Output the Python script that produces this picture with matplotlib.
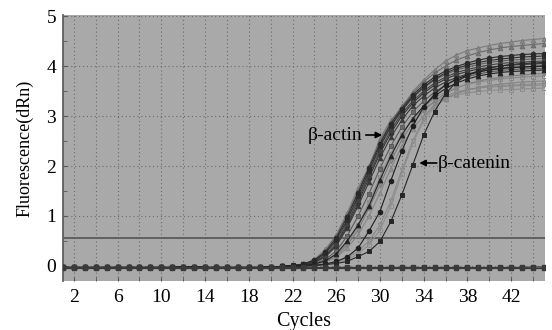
import matplotlib
matplotlib.use("Agg")
import matplotlib.pyplot as plt
from matplotlib.ticker import MultipleLocator, FixedLocator

# ---------------- data ----------------
cycles = list(range(1, 46))
# shared flat baseline, cycles 1..21
baseline = [-0.03, -0.03, -0.03, -0.03, -0.03, -0.03, -0.03, -0.03, -0.03, -0.03,
            -0.03, -0.02, -0.02, -0.03, -0.03, -0.03, -0.03, -0.03, -0.03, -0.02, -0.01]
# amplification part, cycles 22..45
e1 = [0.01, 0.04, 0.13, 0.33, 0.62, 1.06, 1.56, 1.98, 2.55, 2.92, 3.15, 3.49, 3.72, 3.92, 4.10, 4.22, 4.31, 4.36, 4.41, 4.45, 4.48, 4.51, 4.53, 4.55]
e2 = [0.01, 0.03, 0.11, 0.30, 0.60, 1.02, 1.50, 2.00, 2.50, 2.88, 3.20, 3.45, 3.68, 3.86, 4.00, 4.12, 4.20, 4.27, 4.32, 4.36, 4.39, 4.41, 4.43, 4.45]
e3 = [0.01, 0.04, 0.12, 0.28, 0.56, 0.98, 1.46, 1.96, 2.45, 2.85, 3.15, 3.42, 3.62, 3.78, 3.90, 3.99, 4.06, 4.12, 4.16, 4.19, 4.21, 4.23, 4.24, 4.25]
e4 = [0.01, 0.03, 0.10, 0.25, 0.52, 0.92, 1.40, 1.90, 2.40, 2.80, 3.12, 3.38, 3.58, 3.74, 3.86, 3.95, 4.02, 4.07, 4.11, 4.14, 4.16, 4.18, 4.19, 4.20]
e5 = [0.00, 0.03, 0.09, 0.22, 0.48, 0.88, 1.36, 1.86, 2.36, 2.78, 3.10, 3.36, 3.56, 3.72, 3.83, 3.92, 3.98, 4.03, 4.07, 4.10, 4.12, 4.13, 4.14, 4.15]
e6 = [0.00, 0.02, 0.08, 0.20, 0.44, 0.84, 1.32, 1.82, 2.30, 2.72, 3.05, 3.30, 3.50, 3.66, 3.78, 3.87, 3.93, 3.98, 4.02, 4.05, 4.07, 4.08, 4.09, 4.10]
e7 = [0.00, 0.02, 0.08, 0.19, 0.42, 0.80, 1.26, 1.76, 2.25, 2.66, 3.00, 3.26, 3.46, 3.62, 3.74, 3.83, 3.89, 3.94, 3.97, 4.00, 4.02, 4.03, 4.04, 4.05]
e8 = [0.00, 0.02, 0.07, 0.18, 0.40, 0.76, 1.20, 1.68, 2.16, 2.58, 2.92, 3.20, 3.40, 3.56, 3.68, 3.77, 3.84, 3.89, 3.93, 3.95, 3.97, 3.98, 3.99, 4.00]
m1 = [0.00, 0.01, 0.05, 0.13, 0.30, 0.60, 1.00, 1.45, 1.95, 2.40, 2.78, 3.08, 3.30, 3.48, 3.62, 3.72, 3.79, 3.84, 3.88, 3.91, 3.93, 3.94, 3.95, 3.95]
m2 = [0.00, 0.01, 0.04, 0.10, 0.24, 0.50, 0.82, 1.20, 1.72, 2.20, 2.62, 2.95, 3.20, 3.40, 3.55, 3.66, 3.74, 3.80, 3.84, 3.87, 3.89, 3.90, 3.91, 3.92]
m3 = [0.00, 0.01, 0.04, 0.09, 0.19, 0.42, 0.72, 1.16, 1.62, 2.10, 2.52, 2.86, 3.10, 3.30, 3.45, 3.56, 3.64, 3.70, 3.74, 3.77, 3.80, 3.82, 3.84, 3.85]
m4 = [0.00, 0.01, 0.03, 0.08, 0.17, 0.36, 0.62, 1.00, 1.46, 1.95, 2.40, 2.75, 3.00, 3.20, 3.35, 3.45, 3.52, 3.57, 3.61, 3.64, 3.66, 3.68, 3.69, 3.70]
m5 = [0.00, 0.01, 0.04, 0.10, 0.22, 0.45, 0.80, 1.25, 1.75, 2.22, 2.62, 2.95, 3.18, 3.36, 3.48, 3.57, 3.63, 3.68, 3.71, 3.74, 3.76, 3.78, 3.79, 3.80]
l1 = [0.00, 0.01, 0.04, 0.10, 0.22, 0.46, 0.82, 1.28, 1.78, 2.25, 2.65, 2.95, 3.15, 3.28, 3.36, 3.42, 3.46, 3.49, 3.51, 3.52, 3.53, 3.54, 3.55, 3.56]
c1 = [-0.01, 0.00, 0.01, 0.03, 0.05, 0.09, 0.19, 0.29, 0.49, 0.89, 1.42, 2.02, 2.62, 3.09, 3.45, 3.68, 3.82, 3.90, 3.96, 4.00, 4.03, 4.05, 4.06, 4.07]
c2 = [-0.01, 0.00, 0.01, 0.04, 0.09, 0.18, 0.36, 0.70, 1.09, 1.71, 2.30, 2.80, 3.18, 3.44, 3.62, 3.74, 3.82, 3.88, 3.92, 3.95, 3.97, 3.98, 3.99, 4.00]
c3 = [-0.01, 0.00, 0.01, 0.03, 0.08, 0.16, 0.30, 0.50, 0.82, 1.30, 1.92, 2.50, 2.95, 3.25, 3.40, 3.48, 3.53, 3.56, 3.58, 3.59, 3.60, 3.61, 3.61, 3.62]
c4 = [-0.01, 0.00, 0.01, 0.02, 0.06, 0.12, 0.25, 0.42, 0.72, 1.20, 1.85, 2.45, 2.90, 3.18, 3.35, 3.45, 3.52, 3.56, 3.59, 3.61, 3.62, 3.63, 3.64, 3.65]
# no-template controls, cycles 1..45
ntc1 = [-0.03, -0.03, -0.03, -0.03, -0.03, -0.03, -0.03, -0.03, -0.03, -0.03,
        -0.03, -0.03, -0.03, -0.03, -0.03, -0.03, -0.03, -0.03, -0.03, -0.03,
        -0.03, -0.03, -0.03, -0.03, -0.03, -0.03, -0.03, -0.03, -0.03, -0.03,
        -0.03, -0.03, -0.03, -0.03, -0.03, -0.03, -0.03, -0.03, -0.03, -0.03,
        -0.03, -0.03, -0.03, -0.02, -0.02]
ntc2 = [-0.04, -0.04, -0.04, -0.04, -0.04, -0.04, -0.04, -0.04, -0.04, -0.04,
        -0.04, -0.04, -0.04, -0.04, -0.04, -0.04, -0.04, -0.04, -0.04, -0.04,
        -0.04, -0.04, -0.04, -0.04, -0.04, -0.04, -0.04, -0.04, -0.04, -0.04,
        -0.04, -0.04, -0.04, -0.04, -0.04, -0.04, -0.04, -0.04, -0.04, -0.04,
        -0.04, -0.04, -0.04, -0.04, -0.04]
threshold = 0.55

x_ticks = [2, 6, 10, 14, 18, 22, 26, 30, 34, 38, 42]
y_ticks = [0, 1, 2, 3, 4, 5]

# ---------------- style ----------------
curves = [
    (l1, 's', '#8c8c8c', 'none'),
    (c4, 's', '#8f8f8f', 'none'),
    (c3, 'v', '#8a8a8a', '#9a9a9a'),
    (m4, '^', '#858585', '#959595'),
    (m3, 'v', '#7d7d7d', '#8e8e8e'),
    (m5, 's', '#888888', 'none'),
    (e1, '^', '#7a7a7a', '#8a8a8a'),
    (e2, '^', '#6a6a6a', '#7a7a7a'),
    (e5, 'v', '#606060', '#707070'),
    (m1, 's', '#5a5a5a', '#6a6a6a'),
    (e8, '^', '#3a3a3a', '#3a3a3a'),
    (e7, 'o', '#333333', '#333333'),
    (e6, 's', '#404040', '#404040'),
    (e4, 's', '#2e2e2e', '#2e2e2e'),
    (e3, 'o', '#2a2a2a', '#2a2a2a'),
    (m2, '^', '#222222', '#222222'),
    (c2, 'o', '#1e1e1e', '#1e1e1e'),
    (c1, 's', '#262626', '#262626'),
]

plt.rcParams['font.family'] = ['Liberation Serif', 'DejaVu Serif']
fig = plt.figure(figsize=(5.52, 3.30), dpi=100)
ax = fig.add_axes([0.1141, 0.1485, 0.8732, 0.806])
ax.set_facecolor('#a9a9a9')

ax.axhline(threshold, color='#5a5a5a', lw=1.3, zorder=2)

for vals, mk, col, fc in curves:
    ax.plot(cycles, baseline + vals, color=col, lw=0.8, marker=mk, ms=3.3,
            mfc=fc, mec=col, mew=0.7, zorder=3, clip_on=True)
for ntc in (ntc1, ntc2):
    ax.plot(cycles, ntc, color='#3a3a3a', lw=0.9, marker='s', ms=3.0,
            mfc='#3a3a3a', mec='#3a3a3a', zorder=3)
    ax.plot(cycles, ntc, color='#3a3a3a', lw=0, marker='x', ms=3.5, mew=0.8, zorder=3)

ax.set_xlim(1, 45.1)
ax.set_ylim(-0.3, 5.02)
ax.xaxis.set_major_locator(FixedLocator(x_ticks))
ax.xaxis.set_minor_locator(MultipleLocator(2))
ax.yaxis.set_major_locator(FixedLocator(y_ticks))
ax.yaxis.set_minor_locator(MultipleLocator(0.5))
ax.grid(True, which='both', axis='x', color='#6c6c6c', ls=(0, (1, 2.5)), lw=0.8)
ax.grid(True, which='major', axis='y', color='#6c6c6c', ls=(0, (1, 2.5)), lw=0.8)
ax.set_axisbelow(True)
ax.tick_params(axis='both', which='both', direction='in', color='#555555')
ax.tick_params(axis='x', which='both', length=3, pad=6, labelsize=14)
ax.tick_params(axis='y', which='major', length=3, pad=5, labelsize=14)
ax.tick_params(axis='y', which='minor', length=3)
for s in ('top', 'right', 'bottom'):
    ax.spines[s].set_visible(False)
ax.spines['left'].set_color('#5e5e5e')
ax.spines['left'].set_linewidth(1.3)

ax.set_xlabel('Cycles', fontsize=14.5, labelpad=4)
ax.set_ylabel('Fluorescence(dRn)', fontsize=13, labelpad=9)

arrow = dict(arrowstyle='-|>', color='black', lw=1.2, mutation_scale=9,
             shrinkA=0, shrinkB=0)
ax.annotate('', xy=(30.2, 2.62), xytext=(28.7, 2.62), arrowprops=arrow, zorder=5)
ax.text(28.4, 2.62, 'β-actin', fontsize=14, ha='right', va='center', zorder=5)
ax.annotate('', xy=(33.6, 2.06), xytext=(35.2, 2.06), arrowprops=arrow, zorder=5)
ax.text(35.25, 2.06, 'β-catenin', fontsize=14, ha='left', va='center', zorder=5)

fig.savefig('out.png', dpi=100)
